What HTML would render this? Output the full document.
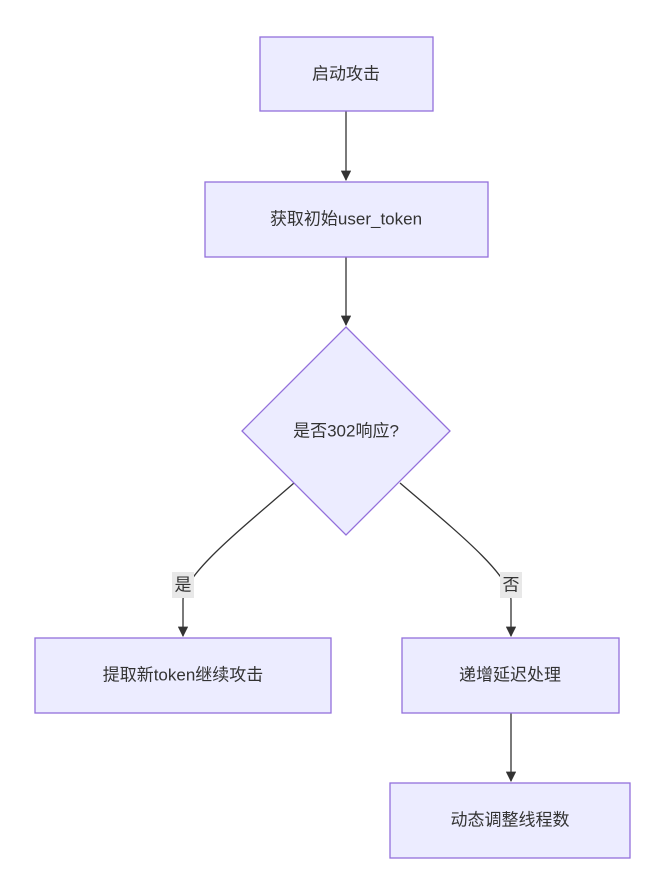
<!DOCTYPE html>
<html><head><meta charset="utf-8"><style>
body{margin:0;background:#fff;}
svg text{font-family:"Liberation Sans","Noto Sans CJK SC",sans-serif;font-size:17px;fill:#333;}
</style></head><body>
<svg width="655" height="883" viewBox="0 0 655 883" xmlns="http://www.w3.org/2000/svg">
<defs><marker id="a" viewBox="0 0 10 10" refX="9" refY="5" markerWidth="8" markerHeight="8" orient="auto"><path d="M0,0L10,5L0,10z" fill="#333"/></marker></defs>
<g fill="none" stroke="#333" stroke-width="1.3">
<path d="M346,111V180" marker-end="url(#a)"/>
<path d="M346,257V325" marker-end="url(#a)"/>
<path d="M294,483C240,530 183,575 183,600V636" marker-end="url(#a)"/>
<path d="M400,483C455,530 511,575 511,600V636" marker-end="url(#a)"/>
<path d="M511,713V781" marker-end="url(#a)"/>
</g>
<g fill="#ECECFF" stroke="#9370DB" stroke-width="1.3">
<rect x="260" y="37" width="173" height="74"/>
<rect x="205" y="182" width="283" height="75"/>
<polygon points="346,327 450,431 346,535 242,431"/>
<rect x="35" y="638" width="296" height="75"/>
<rect x="402" y="638" width="217" height="75"/>
<rect x="390" y="783" width="240" height="75"/>
</g>
<rect x="172" y="572" width="22" height="26" fill="#e8e8e8"/>
<rect x="500" y="572" width="22" height="26" fill="#e8e8e8"/>
<g text-anchor="middle" dominant-baseline="central">
<text x="346" y="74">启动攻击</text>
<text x="346" y="219">获取初始user_token</text>
<text x="346" y="431">是否302响应?</text>
<text x="183" y="585">是</text>
<text x="511" y="585">否</text>
<text x="183" y="675">提取新token继续攻击</text>
<text x="510" y="675">递增延迟处理</text>
<text x="510" y="820">动态调整线程数</text>
</g>
</svg>
</body></html>
